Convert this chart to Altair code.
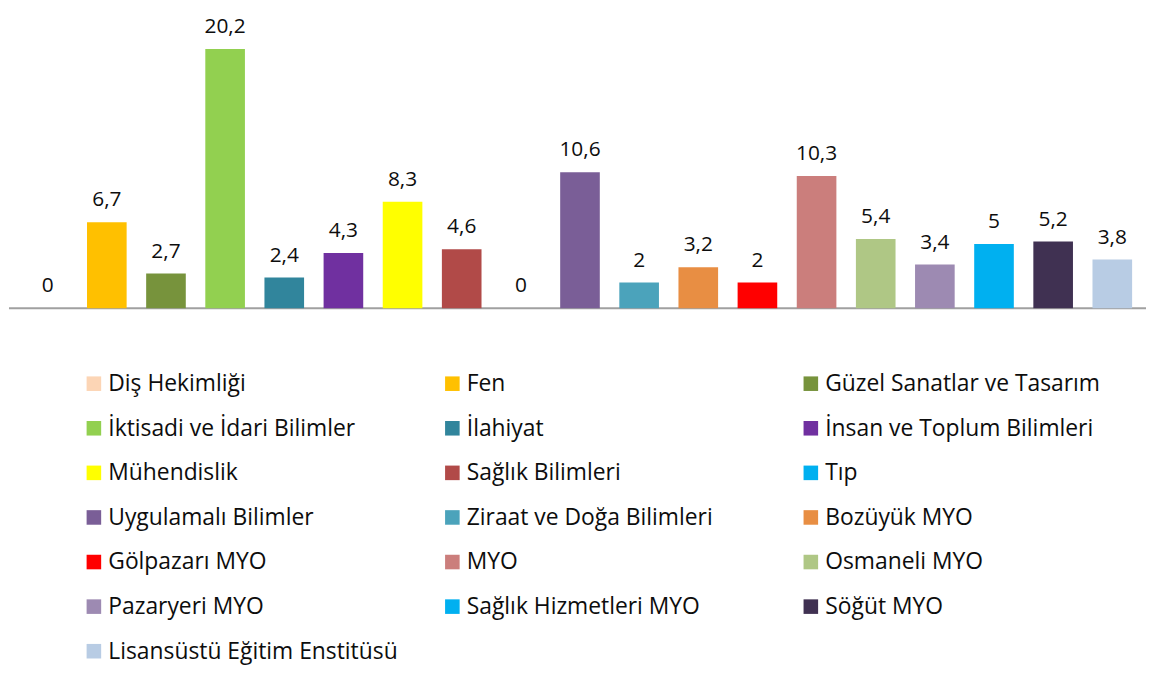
import altair as alt
import pandas as pd

categories = [
    "Diş Hekimliği", "Fen", "Güzel Sanatlar ve Tasarım",
    "İktisadi ve İdari Bilimler", "İlahiyat", "İnsan ve Toplum Bilimleri",
    "Mühendislik", "Sağlık Bilimleri", "Tıp",
    "Uygulamalı Bilimler", "Ziraat ve Doğa Bilimleri", "Bozüyük MYO",
    "Gölpazarı MYO", "MYO", "Osmaneli MYO",
    "Pazaryeri MYO", "Sağlık Hizmetleri MYO", "Söğüt MYO",
    "Lisansüstü Eğitim Enstitüsü",
]
values = [0, 6.7, 2.7, 20.2, 2.4, 4.3, 8.3, 4.6, 0, 10.6, 2, 3.2, 2, 10.3, 5.4, 3.4, 5, 5.2, 3.8]
colors = [
    "#FCD5B5", "#FFC000", "#77933C",
    "#92D050", "#31859C", "#7030A0",
    "#FFFF00", "#B14A48", "#00B0F0",
    "#7A5E97", "#4BA3BB", "#E88E43",
    "#FF0000", "#CB7E7C", "#AFC785",
    "#9D8AB2", "#00B0F0", "#403152",
    "#B8CCE4",
]

FONT = "Open Sans"
W = 1145

df = pd.DataFrame({"kategori": categories, "deger": values, "sira": list(range(len(categories)))})
df["sutun"] = df["sira"] % 3
df["satir"] = df["sira"] // 3

color_scale = alt.Scale(domain=categories, range=colors)
base = alt.Chart(df)

x = alt.X("kategori:N", sort=categories, axis=None,
          scale=alt.Scale(paddingInner=0.33, paddingOuter=0.277, align=0.576))
y = alt.Y("deger:Q", axis=None, scale=alt.Scale(domain=[0, 23.22], nice=False, zero=True))

rule = alt.Chart(pd.DataFrame({"z": [0]})).mark_rule(color="#A0A0A0", strokeWidth=2).encode(
    y=alt.Y("z:Q", axis=None)
)
bars = base.mark_bar().encode(
    x=x, y=y, color=alt.Color("kategori:N", scale=color_scale, legend=None)
)
labels = base.transform_calculate(
    etiket="replace(toString(datum.deger), '.', ',')"
).mark_text(
    baseline="alphabetic", dy=-16, fontSize=21, font=FONT, color="#0D0D0D"
).encode(x=x, y=y, text="etiket:N")

bar_chart = alt.layer(rule, bars, labels).properties(width=W, height=300)

lx = alt.X("sutun:Q", axis=None, scale=alt.Scale(domain=[-0.2368, 2.935], nice=False, zero=False))
ly = alt.Y("satir:Q", axis=None,
           scale=alt.Scale(domain=[-1.693, 6.258], reverse=True, nice=False, zero=False))
squares = base.mark_square(size=215, opacity=1).encode(
    x=lx, y=ly, color=alt.Color("kategori:N", scale=color_scale, legend=None)
)
names = base.mark_text(
    align="left", baseline="alphabetic", dx=14.5, dy=7.5, fontSize=23, font=FONT, color="#0D0D0D"
).encode(x=lx, y=ly, text="kategori:N")
legend_chart = alt.layer(squares, names).properties(width=W, height=357)

chart = alt.vconcat(bar_chart, legend_chart, spacing=0, bounds="flush").properties(
    padding=0
).configure_view(stroke=None)

chart.save("out.html", embed_options={"renderer": "svg", "actions": False})
